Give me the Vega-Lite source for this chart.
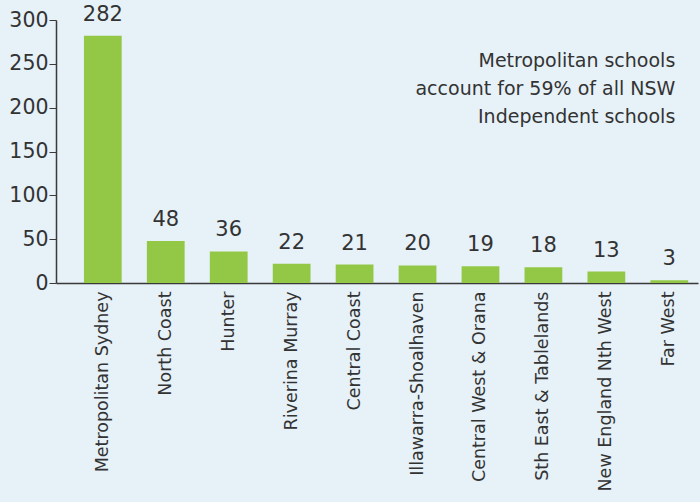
{
  "$schema": "https://vega.github.io/schema/vega-lite/v6.json",
  "width": 642,
  "height": 263,
  "autosize": "none",
  "padding": {"left": 56, "top": 20, "right": 2, "bottom": 219},
  "background": "#e6f1f8",
  "config": {
    "view": {"stroke": null},
    "font": "DejaVu Sans",
    "axis": {"labelFont": "DejaVu Sans", "labelColor": "#333333", "domainColor": "#3a3a3a", "tickColor": "#3a3a3a", "grid": false, "title": null}
  },
  "data": {
    "values": [
      {"region": "Metropolitan Sydney", "schools": 282},
      {"region": "North Coast", "schools": 48},
      {"region": "Hunter", "schools": 36},
      {"region": "Riverina Murray", "schools": 22},
      {"region": "Central Coast", "schools": 21},
      {"region": "Illawarra-Shoalhaven", "schools": 20},
      {"region": "Central West & Orana", "schools": 19},
      {"region": "Sth East & Tablelands", "schools": 18},
      {"region": "New England Nth West", "schools": 13},
      {"region": "Far West", "schools": 3}
    ]
  },
  "layer": [
    {
      "mark": {"type": "bar", "color": "#93c847"},
      "encoding": {
        "x": {
          "field": "region",
          "type": "nominal",
          "sort": null,
          "scale": {"paddingInner": 0.4, "paddingOuter": 0.3, "align": 0.74},
          "axis": {"labelAngle": -90, "labelAlign": "right", "labelBaseline": "middle", "labelFontSize": 17.5, "labelPadding": 8, "labelLimit": 400, "ticks": false, "domainWidth": 1.5}
        },
        "y": {
          "field": "schools",
          "type": "quantitative",
          "scale": {"domain": [0, 300], "nice": false},
          "axis": {"values": [0, 50, 100, 150, 200, 250, 300], "labelFontSize": 20.5, "tickSize": 7, "labelPadding": 1, "domainWidth": 1.5}
        }
      }
    },
    {
      "mark": {"type": "text", "fontSize": 21, "fontWeight": "normal", "color": "#333333", "baseline": "alphabetic", "dy": -15},
      "encoding": {
        "x": {"field": "region", "type": "nominal", "sort": null},
        "y": {"field": "schools", "type": "quantitative"},
        "text": {"field": "schools", "type": "quantitative"}
      }
    },
    {
      "data": {"values": [{"note": ["Metropolitan schools", "account for 59% of all NSW", "Independent schools"]}]},
      "mark": {"type": "text", "fontSize": 19, "fontWeight": "normal", "color": "#333333", "align": "right", "baseline": "alphabetic", "lineHeight": 28, "dx": 6},
      "encoding": {
        "x": {"datum": "Far West", "type": "nominal"},
        "y": {"datum": 246, "type": "quantitative"},
        "text": {"field": "note"}
      }
    }
  ]
}
